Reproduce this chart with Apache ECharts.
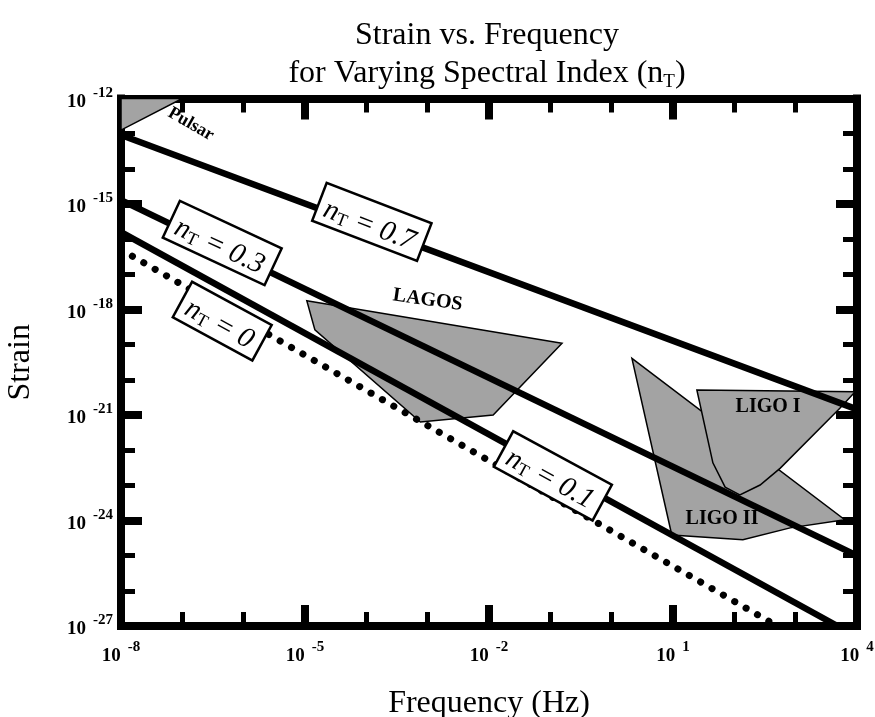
<!DOCTYPE html>
<html><head><meta charset="utf-8">
<script src="https://cdn.jsdelivr.net/npm/echarts@6/dist/echarts.min.js"></script>
<style>html,body{margin:0;padding:0;background:#fff}#c{width:875px;height:717px}</style>
</head><body><div id="c"></div>
<script>
// ---- Axis ranges / ticks ----
const freqRange = [1e-8, 1e4];
const strainRange = [1e-27, 1e-12];
const majorDecadeStep = 3;
const strainTickLabels = [1e-27, 1e-24, 1e-21, 1e-18, 1e-15, 1e-12];

// ---- Spectral-index lines: [frequency Hz, strain] ----
const lineNT07 = [[1e-8, 9.12e-14], [1e4, 1.445e-21]];
const lineNT03 = [[1e-8, 1.288e-15], [1e4, 1.0e-25]];
const lineNT01 = [[1e-8, 1.585e-16], [4.8e3, 1.0e-27]];
const lineNT00 = [[1e-8, 5.0e-17], [398, 1.26e-27]];

// ---- Sensitivity regions (polygon vertices) ----
const regionPulsar = [[1e-8, 1e-12], [1e-7, 1e-12], [1e-8, 1.26e-13]];
const regionLAGOS = [[1.07e-5, 1.78e-18], [0.155, 1.10e-19], [0.0117, 1.0e-21], [7.6e-4, 6.3e-22], [1.45e-5, 2.63e-19]];
const regionLIGO2 = [[2.14, 4.07e-20], [6310, 1.05e-24], [813, 6.17e-25], [138, 2.82e-25], [9.55, 3.89e-25]];
const regionLIGO1 = [[24.5, 5.13e-21], [9330, 4.57e-21], [5250, 1.55e-21], [562, 3.09e-23], [263, 1.02e-23], [123, 5.37e-24], [70.8, 8.91e-24], [44.7, 4.37e-23]];

// ---- Boxed line labels: [frequency, strain], text, angle ----
const boxLabelPos = [[1.23e-4, 3.09e-16], [4.47e-7, 7.76e-17], [4.47e-7, 4.68e-19], [0.11, 1.86e-23]];
const boxLabelText = ['0.7', '0.3', '0', '0.1'];
const boxLabelAngle = [-21, -25, -28.5, -28.5];

// ---- Region labels ----
const regionLabelPos = [[1.38e-7, 1.86e-13], [1e-3, 1.86e-18], [355, 1.70e-21], [63, 1.10e-24]];
const regionLabelText = ['Pulsar', 'LAGOS', 'LIGO I', 'LIGO II'];
const regionLabelAngle = [-30, -8, 0, 0];
const regionLabelSize = [18, 20, 20, 20];

const SERIF = '"Liberation Serif", "Times New Roman", serif';
const chart = echarts.init(document.getElementById('c'));

function powLabel(v) {
  const e = Math.round(Math.log10(v));
  return '{b|10}{e|' + e + '}';
}
const tickRich = {
  b: { fontFamily: SERIF, fontWeight: 'bold', fontSize: 19, color: '#000', lineHeight: 26, verticalAlign: 'bottom' },
  e: { fontFamily: SERIF, fontWeight: 'bold', fontSize: 15, color: '#000', lineHeight: 15, verticalAlign: 'top', padding: [0, 0, 0, 7] }
};

function makeAxis(kind, gridIndex, position, big, labels, lineAndTicks) {
  const isX = kind === 'x';
  const ax = {
    type: 'log', logBase: 10, gridIndex: gridIndex, position: position,
    min: isX ? freqRange[0] : strainRange[0], max: isX ? freqRange[1] : strainRange[1],
    interval: big ? majorDecadeStep : 1,
    axisLine: { show: !big && lineAndTicks, onZero: false, lineStyle: { color: '#000', width: 8, cap: 'square' } },
    axisTick: { show: lineAndTicks, inside: true, length: big ? 21 : 14, lineStyle: { color: '#000', width: big ? 8 : 5 } },
    axisLabel: { show: labels, formatter: powLabel, rich: tickRich, margin: isX ? 14 : 8, showMinLabel: true, showMaxLabel: true, hideOverlap: false },
    splitLine: { show: false }, minorTick: { show: false }, minorSplitLine: { show: false }
  };
  if (labels) {
    ax.name = isX ? 'Frequency (Hz)' : 'Strain';
    ax.nameLocation = 'middle';
    ax.nameGap = isX ? 62 : 84;
    ax.nameMoveOverlap = false;
    ax.nameTextStyle = { fontFamily: SERIF, fontSize: 32, color: '#000' };
  }
  return ax;
}

const gridRect = { left: 121, right: 18, top: 98.5, bottom: 91, containLabel: false, outerBoundsMode: 'none' };

const regionData = [regionPulsar, regionLAGOS, regionLIGO2, regionLIGO1];

function lineSeries(data, dotted) {
  return {
    type: 'line', xAxisIndex: 0, yAxisIndex: 0, data: data, symbol: 'none', silent: true, z: 3,
    lineStyle: dotted ? { color: '#000', width: 7, type: [0.1, 13], cap: 'round' } : { color: '#000', width: 6.5 },
    clip: true
  };
}

const hiddenX = makeAxis('x', 2, 'bottom', true, false, false);
hiddenX.show = false;
const yLabelAxis = makeAxis('y', 2, 'left', true, true, false);
yLabelAxis.axisLabel.customValues = strainTickLabels;

const option = {
  animation: false,
  backgroundColor: '#fff',
  grid: [Object.assign({}, gridRect), Object.assign({}, gridRect), Object.assign({}, gridRect)],
  xAxis: [
    makeAxis('x', 0, 'bottom', false, false, true),
    makeAxis('x', 0, 'top', false, false, true),
    makeAxis('x', 1, 'bottom', true, true, true),
    makeAxis('x', 1, 'top', true, false, true),
    hiddenX
  ],
  yAxis: [
    makeAxis('y', 0, 'left', false, false, true),
    makeAxis('y', 0, 'right', false, false, true),
    makeAxis('y', 1, 'left', true, false, true),
    makeAxis('y', 1, 'right', true, false, true),
    yLabelAxis
  ],
  graphic: [
    { type: 'text', x: 487, y: 36, z: 10, style: { text: 'Strain vs. Frequency', font: '32px ' + SERIF, fill: '#000', align: 'center', verticalAlign: 'middle' } },
    { type: 'text', x: 487, y: 74, z: 10, style: {
      text: 'for Varying Spectral Index (n{s|T})', font: '32px ' + SERIF, fill: '#000', align: 'center', verticalAlign: 'middle', lineHeight: 36,
      rich: { s: { fontSize: 19, fontFamily: SERIF, lineHeight: 10, verticalAlign: 'bottom' } } } }
  ],
  series: [
    {
      type: 'custom', xAxisIndex: 0, yAxisIndex: 0, z: 1, silent: true,
      data: regionData.map(function (r) { return r[0]; }),
      renderItem: function (params, api) {
        const poly = regionData[params.dataIndex];
        const pts = poly.map(function (p) { return api.coord(p); });
        return { type: 'polygon', shape: { points: pts }, style: { fill: '#a3a3a3', stroke: '#000', lineWidth: 1.5 } };
      }
    },
    lineSeries(lineNT07, false),
    lineSeries(lineNT03, false),
    lineSeries(lineNT01, false),
    lineSeries(lineNT00, true),
    {
      type: 'scatter', xAxisIndex: 0, yAxisIndex: 0, z: 5, silent: true, symbolSize: 0,
      itemStyle: { color: 'transparent', opacity: 1 },
      data: boxLabelPos.map(function (p, i) {
        return { value: p, label: { rotate: boxLabelAngle[i], formatter: '{i|n}{s|T}{i| = ' + boxLabelText[i] + '}' } };
      }),
      label: {
        show: true, position: 'inside', backgroundColor: '#fff', borderColor: '#000', borderWidth: 2.5,
        padding: [0, 8, 0, 6], opacity: 1,
        rich: {
          i: { fontFamily: SERIF, fontStyle: 'italic', fontSize: 29, color: '#000', lineHeight: 38, verticalAlign: 'bottom' },
          s: { fontFamily: SERIF, fontSize: 18, color: '#000', lineHeight: 12, verticalAlign: 'bottom' }
        }
      }
    },
    {
      type: 'scatter', xAxisIndex: 0, yAxisIndex: 0, z: 6, silent: true, symbolSize: 0,
      itemStyle: { color: 'transparent', opacity: 1 },
      data: regionLabelPos.map(function (p, i) {
        return { value: p, label: { rotate: regionLabelAngle[i], formatter: regionLabelText[i], fontSize: regionLabelSize[i] } };
      }),
      label: { show: true, position: 'inside', fontFamily: SERIF, fontWeight: 'bold', color: '#000', opacity: 1 }
    }
  ]
};
chart.setOption(option);
</script></body></html>
